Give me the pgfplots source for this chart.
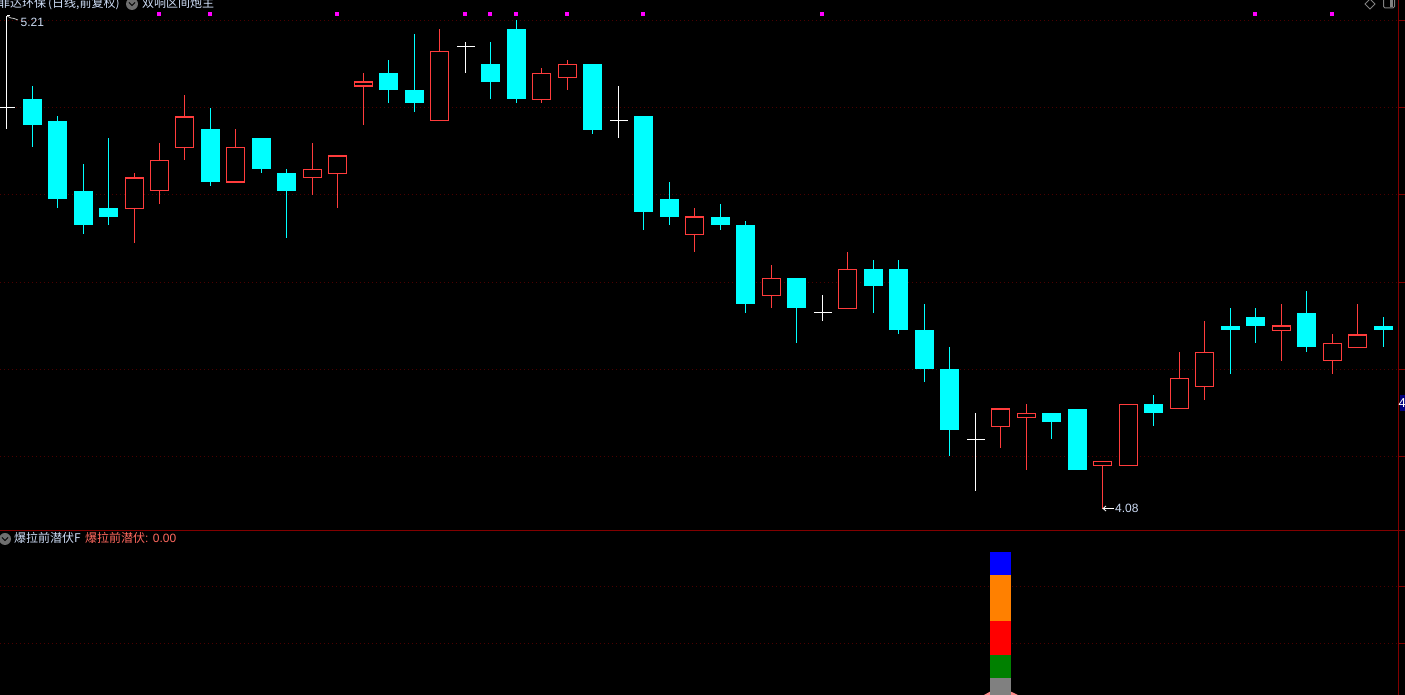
\documentclass[border=0pt]{standalone}
\usepackage{pgfplots}
\usepackage{pgfplotstable}
\usepackage{fontspec}
\pgfplotsset{compat=1.18}
\setmainfont{Liberation Sans}
\newfontfamily\cjk{Noto Sans CJK SC}
\definecolor{upc}{RGB}{255,60,60}
\definecolor{dnc}{RGB}{0,255,255}
\definecolor{rdark}{RGB}{130,0,0}
\definecolor{griddot}{RGB}{75,0,0}
\definecolor{lbl}{RGB}{205,220,245}
\definecolor{salmon}{RGB}{255,105,95}
\definecolor{orangeb}{RGB}{255,128,0}
\definecolor{greenb}{RGB}{0,128,0}
\definecolor{grayb}{RGB}{128,128,128}
\definecolor{pinkb}{RGB}{255,140,140}
\definecolor{icon}{RGB}{110,110,110}
\definecolor{magen}{RGB}{255,0,255}

% x = horizontal position of the candle, top/bot = body, high/low = wick
\pgfplotstableread{
x top bot high low
32.5 5.02 4.96 5.05 4.91
57.5 4.97 4.79 4.98 4.77
83.5 4.81 4.73 4.87 4.71
108.5 4.77 4.75 4.93 4.73
210.5 4.95 4.83 5.00 4.82
261.5 4.93 4.86 4.93 4.85
286.5 4.85 4.81 4.86 4.70
388.5 5.08 5.04 5.11 5.01
414.5 5.04 5.01 5.17 4.99
490.5 5.10 5.06 5.15 5.02
516.5 5.18 5.02 5.20 5.01
592.5 5.10 4.95 5.10 4.94
643.5 4.98 4.76 4.98 4.72
669.5 4.79 4.75 4.83 4.73
720.5 4.75 4.73 4.78 4.72
745.5 4.73 4.55 4.74 4.53
796.5 4.61 4.54 4.61 4.46
873.5 4.63 4.59 4.65 4.53
898.5 4.63 4.49 4.65 4.48
924.5 4.49 4.40 4.55 4.37
949.5 4.40 4.26 4.45 4.20
1051.5 4.30 4.28 4.30 4.24
1077.5 4.31 4.17 4.31 4.17
1153.5 4.32 4.30 4.34 4.27
1230.5 4.50 4.49 4.54 4.39
1255.5 4.52 4.50 4.54 4.46
1306.5 4.53 4.45 4.58 4.44
1383.5 4.50 4.49 4.52 4.45
}\cyantab
\pgfplotstableread{
x top bot high low
134.5 4.84 4.77 4.85 4.69
159.5 4.88 4.81 4.92 4.78
184.5 4.98 4.91 5.03 4.88
235.5 4.91 4.83 4.95 4.83
312.5 4.86 4.84 4.92 4.80
337.5 4.89 4.85 4.89 4.77
363.5 5.06 5.05 5.08 4.96
439.5 5.13 4.97 5.18 4.97
541.5 5.08 5.02 5.09 5.01
567.5 5.10 5.07 5.11 5.04
694.5 4.75 4.71 4.77 4.67
771.5 4.61 4.57 4.64 4.54
847.5 4.63 4.54 4.67 4.54
1000.5 4.31 4.27 4.31 4.22
1026.5 4.30 4.29 4.32 4.17
1102.5 4.19 4.18 4.19 4.08
1128.5 4.32 4.18 4.32 4.18
1179.5 4.38 4.31 4.44 4.31
1204.5 4.44 4.36 4.51 4.33
1281.5 4.50 4.49 4.55 4.42
1332.5 4.46 4.42 4.48 4.39
1357.5 4.48 4.45 4.55 4.45
}\redtab
\pgfplotstableread{
x mid high low
6.5 5.00 5.21 4.95
465.5 5.14 5.15 5.08
618.5 4.97 5.05 4.93
822.5 4.53 4.57 4.51
975.5 4.24 4.30 4.12
}\dojitab
\pgfplotstableread{
x y
158.5 5.2138
209.5 5.2138
336.5 5.2138
464.5 5.2138
489.5 5.2138
515.5 5.2138
566.5 5.2138
642.5 5.2138
821.5 5.2138
1254.5 5.2138
1331.5 5.2138
}\marktab

\pgfplotsset{
  panel/.style={
    scale only axis, width=1398.5pt, xmin=0, xmax=1398.5,
    axis x line=none, axis y line=right,
    axis line style={-},
    y axis line style={draw=rdark, line width=1.2pt},
    xtick=\empty, yticklabels={},
    tick align=outside, major tick length=6pt,
    tick style={draw=rdark, line width=1pt},
    ymajorgrids,
    grid style={draw=griddot, line width=1pt, dash pattern=on 1pt off 3pt},
  },
  nomark/.style={only marks, mark=text, text mark={}},
}
% wick of a candle: #1 colour, #2 table
\newcommand{\wick}[2]{%
  \addplot[#1, nomark, forget plot,
    error bars/.cd, y dir=both, y explicit, error mark=none,
    error bar style={color=#1, solid, line width=1pt}]
    table[x=x, y expr=(\thisrow{high}+\thisrow{low})/2,
      y error plus expr=(\thisrow{high}-\thisrow{low})/2,
      y error minus expr=(\thisrow{high}-\thisrow{low})/2] {#2};
}
% body: #1 colour, #2 width in pt, #3 raise of top, #4 raise of bottom (price), #5 table
\newcommand{\candlebody}[5]{%
  \addplot[#1, nomark, forget plot,
    error bars/.cd, y dir=both, y explicit, error mark=none,
    error bar style={color=#1, solid, line width=#2pt}]
    table[x=x, y expr=(\thisrow{top}+\thisrow{bot}+#3+#4)/2,
      y error plus expr=(\thisrow{top}-\thisrow{bot}+#3-#4)/2,
      y error minus expr=(\thisrow{top}-\thisrow{bot}+#3-#4)/2] {#5};
}

\begin{document}
\begin{tikzpicture}[x=1pt,y=1pt]
\useasboundingbox (0,0) rectangle (1405,695);
\clip (0,0) rectangle (1405,695);
\fill[black] (0,0) rectangle (1405,695);

% upper panel: price
\begin{axis}[panel, at={(0pt,165pt)}, anchor=south west, height=530pt,
    ymin=4.0314, ymax=5.24702,
    ytick={4.2,4.4,4.6,4.8,5.0,5.2}]
  \wick{dnc}{\cyantab}
  \wick{upc}{\redtab}
  \wick{white}{\dojitab}
  \candlebody{dnc}{19}{0}{0}{\cyantab}
  \candlebody{upc}{19}{0.0005}{-0.0016}{\redtab}
  \candlebody{black}{17}{-0.0025}{0.0009}{\redtab}
  \addplot[white, nomark, forget plot,
    error bars/.cd, x dir=both, x fixed=9, error mark=none,
    error bar style={color=white, solid, line width=1pt}]
    table[x=x, y=mid] {\dojitab};
  \addplot[magen, only marks, mark=square*, mark size=1.5pt,
    mark options={fill=magen, draw=magen, line width=0pt}] table[x=x, y=y] {\marktab};
\end{axis}

% lower panel: indicator
\begin{axis}[panel, at={(0pt,0pt)}, anchor=south west, height=164pt,
    ymin=1.93, ymax=59.47, ytick={20,40}]
  \addplot[fill=pinkb, draw=none] coordinates {(984,1.93)(990,3.1)(1011,3.1)(1018,1.93)} -- cycle;
  \addplot[fill=grayb, draw=none] coordinates {(990,0)(1011,0)(1011,8)(990,8)} -- cycle;
  \addplot[fill=greenb, draw=none] coordinates {(990,8)(1011,8)(1011,16)(990,16)} -- cycle;
  \addplot[fill=red, draw=none] coordinates {(990,16)(1011,16)(1011,28)(990,28)} -- cycle;
  \addplot[fill=orangeb, draw=none] coordinates {(990,28)(1011,28)(1011,44)(990,44)} -- cycle;
  \addplot[fill=blue, draw=none] coordinates {(990,44)(1011,44)(1011,52)(990,52)} -- cycle;
\end{axis}

% panel chrome and labels (measured from the top left)
\begin{scope}[shift={(0,695)}, y=-1pt]
  \draw[rdark, line width=1pt] (0,530.5) -- (1405,530.5);
  \fill[blue!50!black] (1399.5,395) rectangle (1405,411);
  \node[anchor=base west, inner sep=0pt, text=white] at (1398.5,407.5)
    {\fontsize{13}{15}\selectfont 4};

  \node[anchor=base west, inner sep=0pt, text=lbl] at (-2,8)
    {\fontsize{12}{14}\selectfont\cjk 菲达环保\hspace{2pt}(日线,前复权)};
  \fill[icon] (132,4) circle (6);
  \draw[black, line width=1pt] (129,2.5) -- (132,5.5) -- (135,2.5);
  \node[anchor=base west, inner sep=0pt, text=lbl] at (142,8)
    {\fontsize{12}{14}\selectfont\cjk 双响区间炮主};

  \fill[icon] (5,539) circle (6);
  \draw[black, line width=1pt] (2,537.5) -- (5,540.5) -- (8,537.5);
  \node[anchor=base west, inner sep=0pt, text=lbl] at (14,543)
    {\fontsize{12}{14}\selectfont\cjk 爆拉前潜伏F};
  \node[anchor=base west, inner sep=0pt, text=salmon] at (85,543)
    {\fontsize{12}{14}\selectfont{\cjk 爆拉前潜伏}: 0.00};

  \node[anchor=base west, inner sep=0pt, text=lbl] at (20.5,27)
    {\fontsize{12}{14}\selectfont 5.21};
  \draw[white!75!black, line width=0.8pt] (7,16) -- (11,18) -- (14,18.5) -- (18,20);
  \draw[white, line width=0.8pt] (7,15.5) -- (10,15.5);
  \node[anchor=base west, inner sep=0pt, text=lbl] at (1115,513)
    {\fontsize{12}{14}\selectfont 4.08};
  \draw[white, line width=0.8pt] (1103,508.5) -- (1114,508.5);
  \draw[white, line width=0.8pt] (1106,506) -- (1103,508.5) -- (1106,511);

  \draw[gray, line width=0.8pt] (1370,-1) -- (1375,4) -- (1370,9) -- (1365,4) -- cycle;
  \draw[gray, line width=1pt, rounded corners=1.5pt] (1383.5,-3) rectangle (1394.5,8);
  \fill[gray] (1390,-3) rectangle (1393,7);
\end{scope}
\end{tikzpicture}
\end{document}
